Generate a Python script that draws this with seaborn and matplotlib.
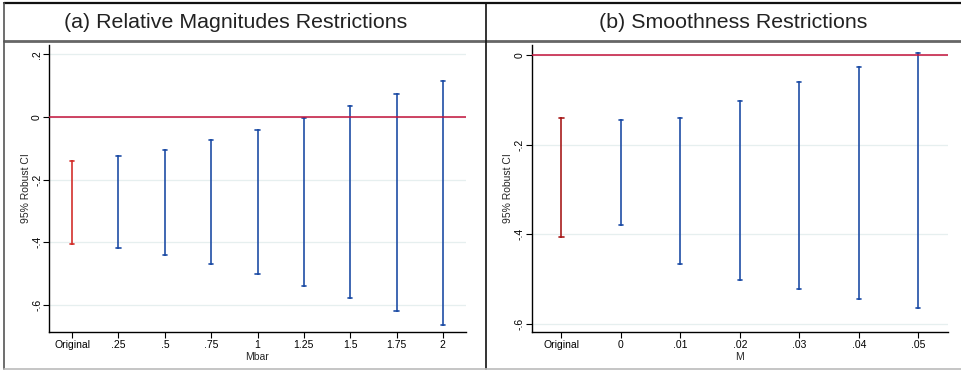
import matplotlib
matplotlib.use("Agg")
import matplotlib.pyplot as plt
from matplotlib.lines import Line2D
import numpy as np
import pandas as pd
import seaborn as sns

sns.set_style("white")
plt.rcParams['font.family'] = ['Liberation Sans', 'DejaVu Sans']

# colours
blue = "#1f4ea6"
red_a = "#d3302c"
red_b = "#a81c1c"
zero_red = "#c4123a"
grid = "#e6efef"

# (a) relative magnitudes
mbar_labels = ["Original", ".25", ".5", ".75", "1", "1.25", "1.5", "1.75", "2"]
mbar_lo = [-0.406, -0.418, -0.441, -0.470, -0.502, -0.539, -0.578, -0.619, -0.663]
mbar_hi = [-0.139, -0.124, -0.105, -0.074, -0.042, -0.003, 0.034, 0.074, 0.116]

# (b) smoothness
m_labels = ["Original", "0", ".01", ".02", ".03", ".04", ".05"]
m_lo = [-0.407, -0.379, -0.467, -0.501, -0.523, -0.544, -0.565]
m_hi = [-0.140, -0.146, -0.140, -0.103, -0.061, -0.028, 0.004]

yt_a = [0.2, 0, -0.2, -0.4, -0.6]
yt_b = [0, -0.2, -0.4, -0.6]


def fmt(v):
    if v == 0:
        return "0"
    s = f"{v:g}"
    return s.replace("0.", ".")


def ci_frame(labels, lo, hi):
    rows = []
    for lab, a, b in zip(labels, lo, hi):
        grp = "orig" if lab == "Original" else "rob"
        rows.append((lab, a, grp))
        rows.append((lab, b, grp))
    return pd.DataFrame(rows, columns=["x", "y", "grp"])


fig = plt.figure(figsize=(9.61, 3.71), dpi=100)
ax1 = fig.add_axes([49 / 961, 39 / 371, 417 / 961, 287 / 371])
ax2 = fig.add_axes([531.7 / 961, 39 / 371, 416.3 / 961, 287 / 371])

panels = [
    (ax1, mbar_labels, mbar_lo, mbar_hi, red_a, yt_a, (-0.686, 0.2297), "Mbar", 0.09),
    (ax2, m_labels, m_lo, m_hi, red_b, yt_b, (-0.618, 0.022), "M", 0.07),
]

for ax, labs, lo, hi, rc, yt, ylim, xl, cap in panels:
    df = ci_frame(labs, lo, hi)
    for yv in yt:
        ax.axhline(yv, color=grid, lw=0.9, zorder=0)
    sns.pointplot(data=df, x="x", y="y", hue="grp", order=labs,
                  palette={"orig": rc, "rob": blue},
                  estimator="median", errorbar=("pi", 100),
                  capsize=cap, marker="", linestyle="none",
                  err_kws={"linewidth": 1.2}, dodge=False,
                  legend=False, ax=ax)
    ax.axhline(0, color=zero_red, lw=1.1, zorder=3)
    ax.set_xlim(-0.5, len(labs) - 0.5)
    ax.set_ylim(*ylim)
    ax.set_yticks(yt)
    ax.set_yticklabels([fmt(v) for v in yt], rotation=90, va="center")
    ax.set_ylabel("95% Robust CI", fontsize=7.5, labelpad=1)
    ax.set_xlabel(xl, fontsize=7.5, labelpad=1)
    ax.tick_params(axis="both", labelsize=7.5, length=4, width=0.8,
                   direction="out", colors="black", pad=2)
    ax.tick_params(axis="y", left=True, pad=1)
    ax.tick_params(axis="x", bottom=True)
    for s in ["top", "right"]:
        ax.spines[s].set_visible(False)
    for s in ["left", "bottom"]:
        ax.spines[s].set_color("black")
        ax.spines[s].set_linewidth(1.0)

fig.text(236 / 961, 1 - 22 / 371, "(a) Relative Magnitudes Restrictions",
         ha="center", va="center", fontsize=15.4, color="#222222")
fig.text(733 / 961, 1 - 22 / 371, "(b) Smoothness Restrictions",
         ha="center", va="center", fontsize=15.4, color="#222222")

# panel frames
def fl(x, y, c, lw):
    fig.add_artist(Line2D([v / 961 for v in x], [1 - v / 371 for v in y],
                          color=c, lw=lw, transform=fig.transFigure))

fl([4, 961], [3, 3], "#111111", 1.6)
fl([4, 961], [40.5, 40.5], "#666666", 2.0)
fl([4, 4], [3, 369], "#555555", 1.2)
fl([486, 486], [3, 369], "#111111", 1.2)
fl([4, 961], [369, 369], "#bbbbbb", 1.2)

fig.savefig("out.png", dpi=100)
